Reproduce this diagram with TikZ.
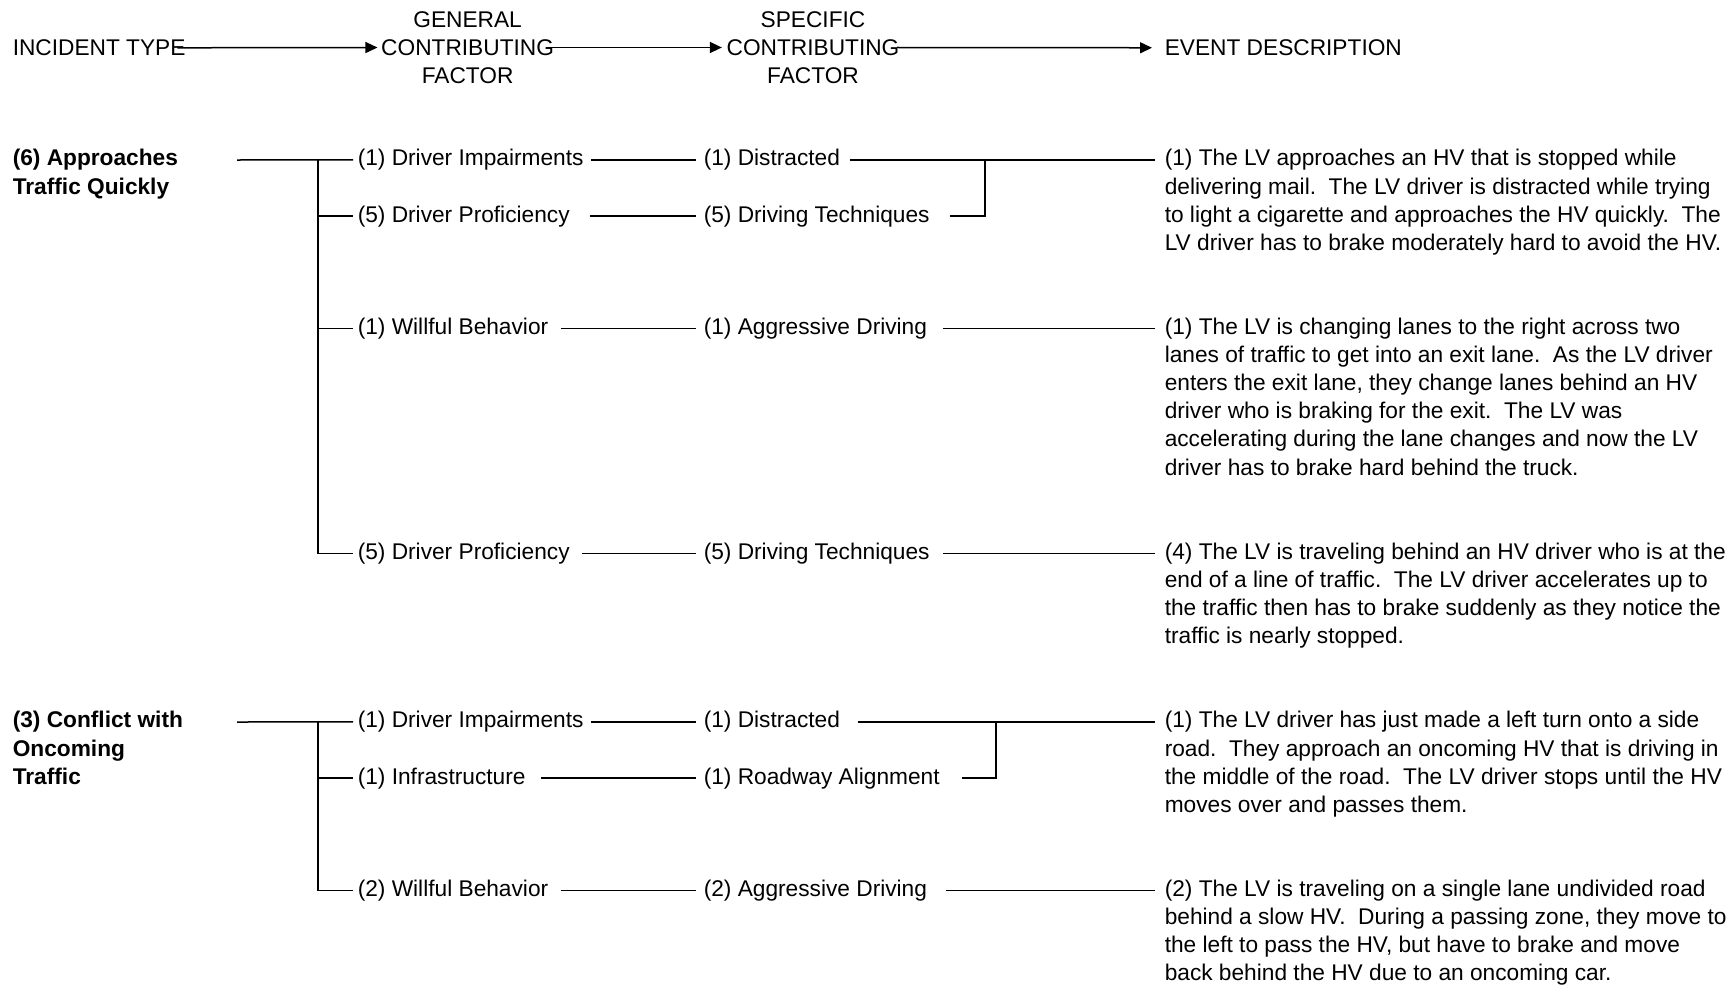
\documentclass[tikz,border=0pt]{standalone}
\usepackage{fontspec}
\setmainfont{Liberation Sans}
\usetikzlibrary{arrows.meta}

\tikzset{
  lbl/.style={anchor=base west, inner sep=0pt},
  desc/.style={anchor=base west, inner sep=0pt, text width=600pt, align=left,
    execute at begin node={\spaceskip=0pt\relax}},
  inctype/.style={desc, text width=210pt, font=\bfseries},
  head/.style={inner sep=0pt, align=center},
  hdarrow/.style={-{Triangle[length=12pt,width=11pt]}},
}

\begin{document}
\fontsize{22.7}{28.1}\selectfont\frenchspacing
\begin{tikzpicture}[x=1pt,y=-1pt,line width=1.5pt]
	\useasboundingbox (0,0) rectangle (1730,988);

	%% column headings
	\node [lbl] (it) at (12,55.6) {INCIDENT TYPE};
	\node [head] (gcf) at (467.6,47.5) {GENERAL\\CONTRIBUTING\\FACTOR};
	\node [head] (scf) at (813,47.5) {SPECIFIC\\CONTRIBUTING\\FACTOR};
	\node [lbl] (ed) at (1164,55.6) {EVENT DESCRIPTION};

	\draw [hdarrow,shorten <=-9pt,shorten >=3pt] (it.east) -- (gcf.west);
	\draw [hdarrow,shorten <=-9pt,shorten >=4pt] (gcf.east) -- (scf.west);
	\draw [hdarrow,shorten <=-3pt,shorten >=12pt] (scf.east) -- (ed.west);

	%% (6) approaches traffic quickly
	\node [inctype] (inc1) at (12,165.9) {(6) Approaches\\Traffic Quickly};
	\node [lbl] (g1) at (357,165.9) {(1) Driver Impairments};
	\node [lbl] (g2) at (357,222.1) {(5) Driver Proficiency};
	\node [lbl] (g3) at (357,334.5) {(1) Willful Behavior};
	\node [lbl] (g4) at (357,559.3) {(5) Driver Proficiency};
	\node [lbl] (s1) at (703,165.9) {(1) Distracted};
	\node [lbl] (s2) at (703,222.1) {(5) Driving Techniques};
	\node [lbl] (s3) at (703,334.5) {(1) Aggressive Driving};
	\node [lbl] (s4) at (703,559.3) {(5) Driving Techniques};

	\node [desc] (d1) at (1164,165.9) {(1) The LV approaches an HV that is stopped while\\
		delivering mail.\ \ The LV driver is distracted while trying\\
		to light a cigarette and approaches the HV quickly.\ \ The\\
		LV driver has to brake moderately hard to avoid the HV.};
	\node [desc] (d2) at (1164,334.5) {(1) The LV is changing lanes to the right across two\\
		lanes of traffic to get into an exit lane.\ \ As the LV driver\\
		enters the exit lane, they change lanes behind an HV\\
		driver who is braking for the exit.\ \ The LV was\\
		accelerating during the lane changes and now the LV\\
		driver has to brake hard behind the truck.};
	\node [desc] (d3) at (1164,559.3) {(4) The LV is traveling behind an HV driver who is at the\\
		end of a line of traffic.\ \ The LV driver accelerates up to\\
		the traffic then has to brake suddenly as they notice the\\
		traffic is nearly stopped.};

	\coordinate (r1) at (237,160);
	\coordinate (t1) at (318,160);
	\coordinate (j1) at (985,160);

	\draw [shorten >=4pt] (r1) -- (g1.mid west);
	\draw [shorten >=4pt] (t1) |- (g4.mid west);
	\draw [shorten >=4pt] (t1 |- g2.mid west) -- (g2.mid west);
	\draw [shorten >=4pt] (t1 |- g3.mid west) -- (g3.mid west);

	\draw [shorten <=7pt,shorten >=7pt] (g1.mid east) -- (s1.mid west);
	\draw [shorten <=20pt,shorten >=7pt] (g2.mid east) -- (s2.mid west);
	\draw [shorten <=12pt,shorten >=7pt] (g3.mid east) -- (s3.mid west);
	\draw [shorten <=12pt,shorten >=7pt] (g4.mid east) -- (s4.mid west);

	\draw [shorten <=9pt,shorten >=9pt] (s1.mid east) -- (s1.mid east -| d1.west);
	\draw [shorten <=20pt] (s2.mid east) -| (j1);
	\draw [shorten <=15pt,shorten >=9pt] (s3.mid east) -- (s3.mid east -| d2.west);
	\draw [shorten <=13pt,shorten >=9pt] (s4.mid east) -- (s4.mid east -| d3.west);

	%% (3) conflict with oncoming traffic
	\node [inctype] (inc2) at (12,727.9) {(3) Conflict with\\Oncoming\\Traffic};
	\node [lbl] (g5) at (357,727.9) {(1) Driver Impairments};
	\node [lbl] (g6) at (357,784.1) {(1) Infrastructure};
	\node [lbl] (g7) at (357,896.5) {(2) Willful Behavior};
	\node [lbl] (s5) at (703,727.9) {(1) Distracted};
	\node [lbl] (s6) at (703,784.1) {(1) Roadway Alignment};
	\node [lbl] (s7) at (703,896.5) {(2) Aggressive Driving};

	\node [desc] (d4) at (1164,727.9) {(1) The LV driver has just made a left turn onto a side\\
		road.\ \ They approach an oncoming HV that is driving in\\
		the middle of the road.\ \ The LV driver stops until the HV\\
		moves over and passes them.};
	\node [desc] (d5) at (1164,896.5) {(2) The LV is traveling on a single lane undivided road\\
		behind a slow HV.\ \ During a passing zone, they move to\\
		the left to pass the HV, but have to brake and move\\
		back behind the HV due to an oncoming car.};

	\coordinate (r2) at (237,722);
	\coordinate (t2) at (318,722);
	\coordinate (j2) at (996,722);

	\draw [shorten >=4pt] (r2) -- (g5.mid west);
	\draw [shorten >=4pt] (t2) |- (g7.mid west);
	\draw [shorten >=4pt] (t2 |- g6.mid west) -- (g6.mid west);

	\draw [shorten <=7pt,shorten >=7pt] (g5.mid east) -- (s5.mid west);
	\draw [shorten <=15pt,shorten >=7pt] (g6.mid east) -- (s6.mid west);
	\draw [shorten <=12pt,shorten >=7pt] (g7.mid east) -- (s7.mid west);

	\draw [shorten <=17pt,shorten >=9pt] (s5.mid east) -- (s5.mid east -| d4.west);
	\draw [shorten <=22pt] (s6.mid east) -| (j2);
	\draw [shorten <=18pt,shorten >=9pt] (s7.mid east) -- (s7.mid east -| d5.west);

\end{tikzpicture}
\end{document}
